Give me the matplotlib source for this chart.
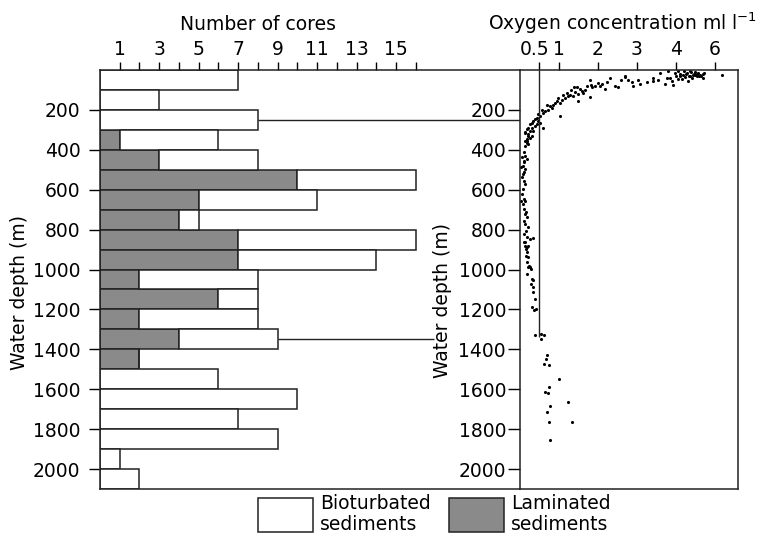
import numpy as np
import matplotlib
matplotlib.use('agg')
import matplotlib.pyplot as plt
from matplotlib.patches import Rectangle
from matplotlib.transforms import ScaledTranslation

plt.rcParams['font.family'] = ['DejaVu Sans']
plt.rcParams['font.size'] = 13.5
plt.rcParams['mathtext.default'] = 'regular'

# core counts per 100 m depth bin
bin_top = np.arange(0, 2100, 100)
laminated = [0, 0, 0, 1, 3, 10, 5, 4, 7, 7, 2, 6, 2, 4, 2, 0, 0, 0, 0, 0, 0]
bioturbated = [7, 3, 8, 5, 5, 6, 6, 1, 9, 7, 6, 2, 6, 5, 0, 6, 10, 7, 9, 1, 2]

# oxygen profile points (ml/l, m)
o2_surface = [2.69, 2.78, 2.86, 2.91, 3.03, 3.08, 3.25, 3.42, 3.42, 3.55, 3.59, 3.72, 3.76,
              3.85, 3.89, 3.93, 3.97, 4.04, 4.10, 4.15, 4.19, 4.23, 4.27, 4.30, 4.33, 4.38,
              4.40, 4.44, 4.49, 4.53, 4.57, 4.62, 4.68, 4.73, 5.17, 4.06, 3.80, 4.21, 4.36,
              4.45, 4.50, 4.60, 4.25, 4.35, 4.55, 4.65, 4.10, 4.00, 4.70]
dep_surface = [32, 48, 62, 82, 52, 68, 62, 40, 57, 48, 15, 68, 40,
               40, 57, 73, 15, 45, 32, 45, 23, 35, 15, 57, 28, 12,
               40, 23, 12, 32, 15, 23, 40, 15, 23, 5, 5, 7, 7,
               18, 25, 28, 20, 30, 20, 30, 20, 28, 22]
o2_upper = [2.69, 2.59, 2.31, 2.44, 2.52, 2.22, 2.11, 2.18, 2.05, 1.99, 1.92, 1.85, 1.79,
            1.82, 1.71, 1.67, 1.62, 1.58, 1.54, 1.50, 1.45, 1.41, 1.37, 1.32, 1.28, 1.24,
            1.20, 1.15, 1.11, 1.07, 1.03, 0.98, 0.94, 0.90, 0.85, 0.81, 0.77, 0.73, 0.68,
            0.64, 0.60, 0.56, 0.51, 0.47, 0.43, 0.38, 0.34, 0.30, 0.26, 0.21, 0.17, 0.13,
            0.21, 0.26, 0.17, 0.34, 0.43, 0.60, 1.03, 1.79, 1.50, 1.39,
            0.30, 0.38, 0.47, 0.51, 0.26, 0.30, 0.13, 0.19]
dep_upper = [35, 48, 40, 78, 85, 62, 68, 95, 82, 65, 82, 87, 52,
             73, 78, 98, 115, 107, 95, 118, 85, 112, 132, 102, 123, 132,
             115, 140, 123, 148, 165, 140, 157, 165, 173, 190, 182, 198, 173,
             207, 215, 198, 232, 223, 240, 248, 257, 265, 273, 290, 298, 315,
             323, 340, 348, 307, 273, 290, 232, 135, 157, 85,
             290, 282, 257, 265, 307, 332, 357, 365]
o2_mid = [0.13, 0.21, 0.17, 0.13, 0.21, 0.09, 0.13, 0.17, 0.10, 0.07, 0.13, 0.09, 0.04,
          0.10, 0.13, 0.07, 0.04, 0.09, 0.13, 0.07, 0.10, 0.15, 0.17, 0.10, 0.13, 0.21,
          0.15, 0.09, 0.19, 0.26, 0.34, 0.13, 0.21,
          0.04, 0.09, 0.02, 0.07, 0.03, 0.13, 0.17, 0.21, 0.26]
dep_mid = [313, 330, 355, 380, 372, 413, 430, 447, 463, 480, 497, 513, 538,
           555, 572, 597, 622, 647, 655, 672, 697, 713, 738, 755, 772, 788,
           805, 822, 838, 847, 842, 863, 880,
           438, 455, 488, 522, 655, 722, 888, 938, 988]
o2_lower = [0.10, 0.13, 0.15, 0.19, 0.15, 0.19, 0.24, 0.27, 0.21, 0.19, 0.30, 0.34, 0.27,
            0.33, 0.34, 0.39, 0.30, 0.36, 0.41]
dep_lower = [863, 880, 897, 913, 930, 963, 980, 997, 988, 1022, 1047, 1055, 1072,
             1088, 1113, 1147, 1188, 1205, 1197]
o2_deep = [0.39, 0.53, 0.53, 0.62, 0.68, 0.67, 0.62, 0.75, 1.01, 0.75, 0.64, 0.73,
           0.77, 1.22, 0.68, 0.75, 1.33, 0.77]
dep_deep = [1330, 1325, 1347, 1330, 1430, 1447, 1475, 1478, 1547, 1588, 1613, 1618,
            1685, 1663, 1713, 1763, 1763, 1852]

o2_ticks = [0.5, 1, 2, 3, 4, 5]
o2_ticklabels = ['0.5', '1', '2', '3', '4', '6']
depth_ticks = list(range(200, 2001, 200))
omz_limit = 0.5
omz_top, omz_bottom = 250, 1340
legend_labels = ['Bioturbated\nsediments', 'Laminated\nsediments']

oxygen = o2_surface + o2_upper + o2_mid + o2_lower + o2_deep
depth = dep_surface + dep_upper + dep_mid + dep_lower + dep_deep

LAM_GREY = '#8a8a8a'
INK = '#222222'

W, H = 757, 535
fig = plt.figure(figsize=(W / 100, H / 100), dpi=100)
ax = fig.add_axes([100 / W, 1 - 489 / H, 420 / W, 419 / H])
ax2 = fig.add_axes([520 / W, 1 - 489 / H, 218 / W, 419 / H])

# left panel: stacked bars
ax.barh(bin_top, laminated, height=100, align='edge', color=LAM_GREY,
        edgecolor=INK, linewidth=1.1)
ax.barh(bin_top, bioturbated, height=100, left=laminated, align='edge', color='white',
        edgecolor=INK, linewidth=1.1)
totals = np.array(laminated) + np.array(bioturbated)
ax.hlines(omz_top, totals[2], 21.27, color=INK, lw=1.0, clip_on=False)
ax.hlines(1350, totals[13], 16.9, color=INK, lw=1.0, clip_on=False)

ax.set_xlim(0, 21.27)
ax.set_ylim(2100, 0)
ax.spines['right'].set_visible(False)
ax.xaxis.tick_top()
ax.set_xticks(range(1, 16, 2))
ax.set_xticks(range(2, 17, 2), minor=True)
ax.tick_params(axis='x', which='both', length=6, width=1, pad=2, top=True, bottom=False)
ax.set_yticks(depth_ticks)
ax.tick_params(axis='y', length=8, width=1, pad=6)
ax.xaxis.set_label_position('top')
ax.set_xlabel('Number of cores')
ax.xaxis.set_label_coords(0.376, 1.095)
ax.set_ylabel('Water depth (m)')
ax.yaxis.set_label_coords(-0.17, 0.47)

# right panel: oxygen profile
ax2.scatter(oxygen, depth, s=5, color='black', linewidths=0)
ax2.vlines(omz_limit, 0, omz_bottom, color=INK, lw=1.0)
ax2.set_xlim(0, 5.59)
ax2.set_ylim(2100, 0)
ax2.xaxis.tick_top()
ax2.set_xticks(o2_ticks)
ax2.set_xticklabels(o2_ticklabels)
ax2.tick_params(axis='x', length=6, width=1, pad=2)
ax2.set_yticks(depth_ticks)
ax2.tick_params(axis='y', length=9, width=1, pad=1)
ax2.xaxis.set_label_position('top')
ax2.set_xlabel('Oxygen concentration ml l$^{-1}$')
ax2.xaxis.set_label_coords(0.47, 1.095)
ax2.set_ylabel('Water depth (m)')
ax2.yaxis.set_label_coords(-0.31, 0.45)

# nudge the crowded "0.5" label left
lab = ax2.get_xticklabels()[0]
lab.set_transform(lab.get_transform() + ScaledTranslation(-0.05, 0, fig.dpi_scale_trans))

for a in (ax, ax2):
    for s in a.spines.values():
        s.set_linewidth(1.1)
        s.set_color(INK)

# legend drawn by hand below the panels
for x0, fc, label in [(258, 'white', legend_labels[0]), (449, LAM_GREY, legend_labels[1])]:
    fig.patches.append(Rectangle((x0 / W, 1 - 532 / H), 55 / W, 34 / H, facecolor=fc,
                                 edgecolor=INK, lw=1.1, transform=fig.transFigure))
    fig.text((x0 + 62) / W, 1 - 494 / H, label, ha='left', va='top', linespacing=1.12)

fig.savefig('out.png', dpi=100)
